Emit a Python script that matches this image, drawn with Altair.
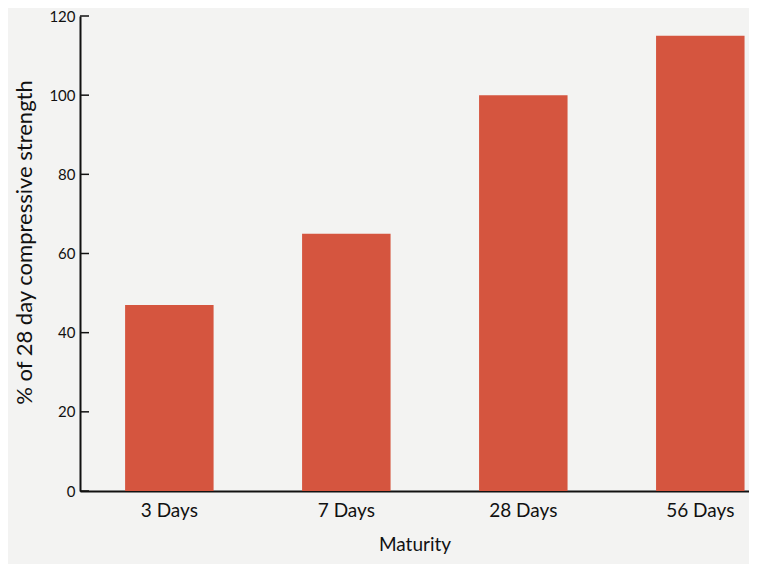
import altair as alt
import pandas as pd

categories = ["3 Days", "7 Days", "28 Days", "56 Days"]
values = [47, 65, 100, 115]
y_ticks = [0, 20, 40, 60, 80, 100, 120]

df = pd.DataFrame({"Maturity": categories, "value": values})
ticks_df = pd.DataFrame({"t": y_ticks})

FONT = "Lato"
y_scale = alt.Scale(domain=[0, 120], nice=False, zero=True)

bars = alt.Chart(df).mark_bar(color="#D5553F").encode(
    x=alt.X("Maturity:N", sort=categories,
            scale=alt.Scale(paddingInner=0.5, paddingOuter=0.14, align=0.91),
            axis=alt.Axis(title="Maturity", labelAngle=0, domainColor="#111111",
                          domainWidth=2, ticks=False, labelFontSize=19,
                          labelColor="#111111", labelPadding=10, labelFont=FONT,
                          titleFont=FONT, titleFontSize=19, titleFontWeight="normal",
                          titleColor="#111111", titlePadding=15)),
    y=alt.Y("value:Q", scale=y_scale,
            axis=alt.Axis(title="% of 28 day compressive strength", values=y_ticks,
                          ticks=False, domainColor="#111111", domainWidth=2,
                          grid=False, labelFontSize=15, labelColor="#111111",
                          labelFont=FONT, labelPadding=5, titleFont=FONT,
                          titleFontSize=22, titleFontWeight="normal",
                          titleColor="#111111", titleBaseline="middle",
                          titleX=-56, titleY=226)),
)

tick_marks = alt.Chart(ticks_df).mark_rule(color="#111111", strokeWidth=1.5).encode(
    y=alt.Y("t:Q", scale=y_scale),
    x=alt.value(0),
    x2=alt.value(9),
)

chart = alt.layer(bars, tick_marks).properties(
    width=669,
    height=475,
    background="#F3F3F2",
    padding={"left": 72, "top": 8, "right": 0, "bottom": 73},
    autosize=alt.AutoSizeParams(type="none"),
).configure_view(stroke=None)

chart.save("out.html", embed_options={"renderer": "svg", "actions": False})
